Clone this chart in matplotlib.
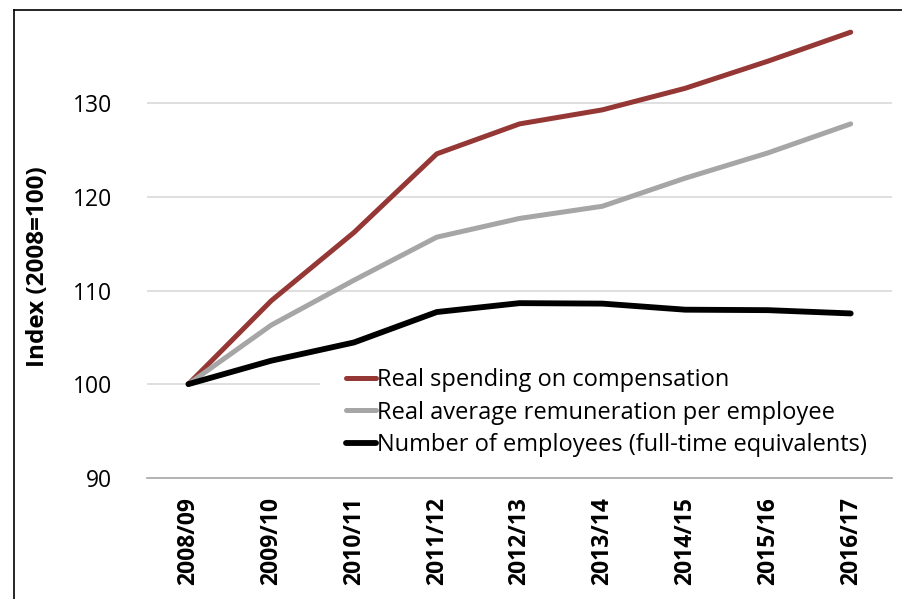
import matplotlib
matplotlib.use("Agg")
import matplotlib.pyplot as plt
from matplotlib.lines import Line2D

plt.rcParams["font.family"] = ["Open Sans", "DejaVu Sans"]

years = ["2008/09", "2009/10", "2010/11", "2011/12", "2012/13",
         "2013/14", "2014/15", "2015/16", "2016/17"]
spending = [100, 108.9, 116.2, 124.6, 127.8, 129.3, 131.6, 134.5, 137.6]
remuneration = [100, 106.3, 111.1, 115.7, 117.7, 119.0, 122.0, 124.7, 127.8]
employees = [100, 102.5, 104.45, 107.7, 108.65, 108.6, 107.95, 107.9, 107.55]

fig = plt.figure(figsize=(9.02, 5.99), dpi=100)
ax = fig.add_axes([0.163, 0.2025, 0.826, 0.7813])

x = range(len(years))
ax.plot(x, spending, color="#953735", lw=3.6, solid_capstyle="round",
        label="Real spending on compensation", zorder=6)
ax.plot(x, remuneration, color="#A6A6A6", lw=3.6, solid_capstyle="round",
        label="Real average remuneration per employee", zorder=6)
ax.plot(x, employees, color="black", lw=4.2, solid_capstyle="round",
        label="Number of employees (full-time equivalents)", zorder=6)

ax.set_xlim(-0.5, 8.5)
ax.set_ylim(90, 140)
ax.set_yticks([90, 100, 110, 120, 130])
ax.set_xticks(list(x))
ax.set_xticklabels(years, rotation=90, fontsize=16.5, fontweight="bold")
ax.tick_params(axis="y", labelsize=16.5, length=0, pad=25)
ax.tick_params(axis="x", length=0, pad=14)
for y in [100, 110, 120, 130]:
    ax.axhline(y, color="#D9D9D9", lw=1.2, zorder=1)
for s in ["top", "right", "left"]:
    ax.spines[s].set_visible(False)
ax.spines["bottom"].set_color("#A6A6A6")
ax.spines["bottom"].set_linewidth(1.2)
ax.spines["bottom"].set_zorder(7)

ax.set_ylabel("Index (2008=100)", fontsize=17.5, fontweight="bold")
ax.yaxis.set_label_coords(-0.130, 0.45)

leg = ax.legend(loc="upper left", bbox_to_anchor=(0.232, 0.289), frameon=True,
                fontsize=17, handlelength=1.27, handletextpad=0.05,
                labelspacing=0.35, borderpad=1.1, borderaxespad=0)
leg.get_frame().set_facecolor("white")
leg.get_frame().set_edgecolor("none")
leg.get_frame().set_alpha(1)
leg.set_zorder(5)

# outer chart frame (left and top edges visible)
fig.add_artist(Line2D([13.5 / 902, 13.5 / 902], [0, 1 - 9.5 / 599], color="black", lw=1.2))
fig.add_artist(Line2D([13.5 / 902, 1], [1 - 9.5 / 599, 1 - 9.5 / 599], color="black", lw=1.2))

fig.savefig("out.png", dpi=100)
